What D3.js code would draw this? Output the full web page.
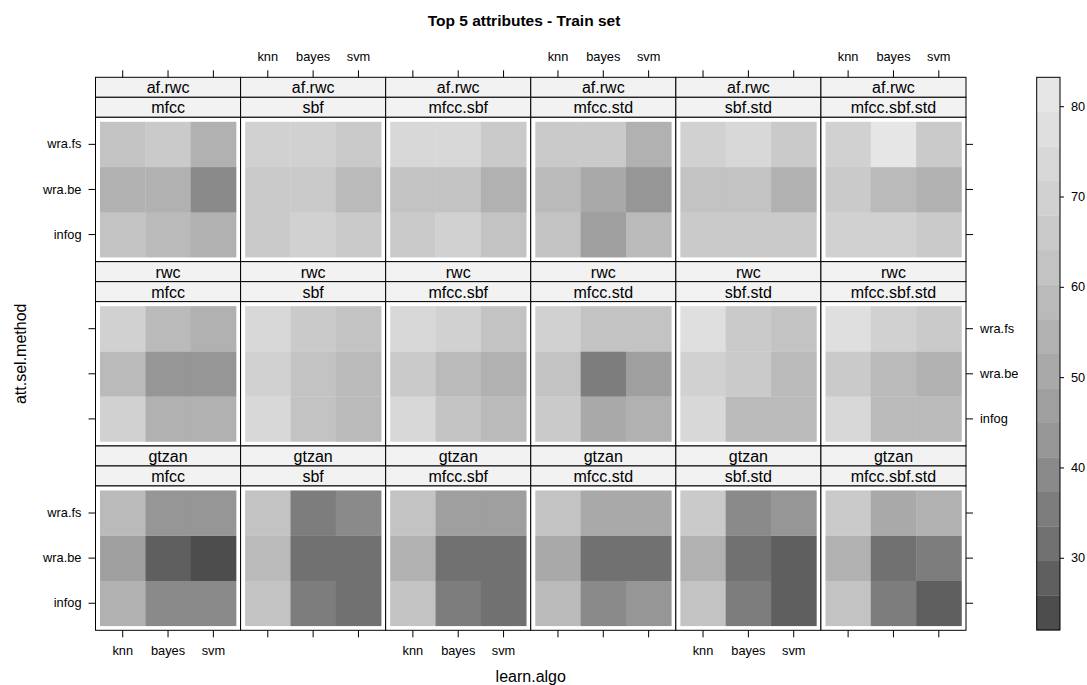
<!DOCTYPE html>
<html>
<head>
<meta charset="utf-8">
<script src="https://cdn.jsdelivr.net/npm/d3@7"></script>
<style>
  html, body { margin: 0; padding: 0; background: #ffffff; }
  svg { display: block; font-family: "Liberation Sans", Arial, Helvetica, sans-serif; }
</style>
</head>
<body>
<svg id="chart" width="1087" height="685"></svg>
<script>
// Conditioning factors and axis categories
const datasets = ["af.rwc", "rwc", "gtzan"];
const featureSets = ["mfcc", "sbf", "mfcc.sbf", "mfcc.std", "sbf.std", "mfcc.sbf.std"];
const learnAlgos = ["knn", "bayes", "svm"];
const attSelMethods = ["infog", "wra.be", "wra.fs"];
const legendTicks = [30, 40, 50, 60, 70, 80];

// Accuracy (%) per feature set: rows follow attSelMethods, columns follow learnAlgos
const accAfRwc = [
  [[62.0, 58.6, 54.9], [54.2, 54.6, 39.4], [61.4, 65.7, 55.1]],
  [[66.5, 69.4, 65.2], [65.0, 64.8, 58.9], [68.8, 69.1, 65.5]],
  [[66.2, 70.4, 62.6], [61.7, 61.9, 55.6], [72.4, 72.8, 66.8]],
  [[62.9, 46.2, 58.1], [58.8, 50.3, 43.4], [65.3, 65.9, 55.4]],
  [[66.4, 66.9, 65.8], [63.0, 62.5, 56.0], [68.9, 73.1, 66.3]],
  [[68.4, 68.6, 66.1], [65.1, 58.2, 55.8], [69.3, 83.2, 66.7]]
];
const accRwc = [
  [[70.1, 55.0, 54.8], [57.4, 43.1, 42.7], [69.0, 58.0, 55.3]],
  [[73.3, 62.4, 58.5], [69.5, 61.6, 59.0], [72.9, 65.4, 62.0]],
  [[74.1, 61.3, 57.9], [66.6, 57.7, 54.3], [72.6, 68.1, 62.7]],
  [[65.6, 50.9, 54.0], [61.1, 35.2, 46.5], [68.7, 62.1, 61.9]],
  [[73.0, 58.7, 57.6], [69.2, 65.3, 58.4], [76.0, 64.5, 62.4]],
  [[72.2, 57.2, 58.0], [66.3, 58.5, 54.7], [75.9, 69.6, 64.9]]
];
const accGtzan = [
  [[54.4, 39.6, 39.0], [46.8, 27.5, 22.0], [57.9, 43.6, 42.9]],
  [[62.5, 35.6, 31.9], [58.0, 31.4, 31.2], [61.6, 35.1, 38.8]],
  [[61.2, 35.9, 31.7], [54.9, 31.0, 31.5], [61.8, 46.4, 46.7]],
  [[58.6, 39.8, 43.5], [50.2, 31.3, 31.6], [61.0, 49.6, 49.9]],
  [[62.7, 35.8, 28.1], [56.2, 31.8, 27.9], [65.0, 39.9, 43.2]],
  [[62.3, 35.5, 28.4], [54.1, 31.9, 35.3], [66.2, 50.1, 54.6]]
];
const accByDataset = [accAfRwc, accRwc, accGtzan];

// Flatten into one record per cell
const records = [];
datasets.forEach((ds, r) => {
  featureSets.forEach((fs, c) => {
    attSelMethods.forEach((m, i) => {
      learnAlgos.forEach((a, j) => {
        records.push({ dataset: ds, features: fs, method: m, algo: a, value: accByDataset[r][c][i][j], row: r, col: c });
      });
    });
  });
});

const svg = d3.select("#chart");
const font = "\"Liberation Sans\", Arial, Helvetica, sans-serif";

// Layout
const gridLeft = 95.5, gridRight = 966, gridTop = 77.3, gridBottom = 630.3;
const nCols = featureSets.length, nRows = datasets.length;
const colW = (gridRight - gridLeft) / nCols;
const rowH = (gridBottom - gridTop) / nRows;
const stripH = 20;
const panelH = rowH - 2 * stripH;
const tickLen = 7;

// Colour scale: 16 equal intervals between data extremes, grey ramp
const [lo, hi] = d3.extent(records, d => d.value);
const nBands = 16;
const breaks = d3.range(nBands + 1).map(i => lo + (hi - lo) * i / nBands);
const nPal = 100;
const g0 = Math.pow(0.3, 2.2), g1 = Math.pow(0.9, 2.2);
const bandColors = d3.range(nBands).map(i => {
  const idx = Math.floor(1 + i * (nPal - 1) / (nBands - 1)) - 1;
  const t = idx / (nPal - 1);
  const g = Math.round(255 * Math.pow(g0 + t * (g1 - g0), 1 / 2.2));
  return d3.rgb(g, g, g).formatHex();
});
const color = d3.scaleThreshold().domain(breaks.slice(1, -1)).range(bandColors);

// In-panel scales
const x = d3.scaleBand().domain(learnAlgos).range([0, colW]).paddingInner(0).paddingOuter(0.1);
const y = d3.scaleBand().domain(attSelMethods).range([panelH, 0]).paddingInner(0).paddingOuter(0.1);

// Title
svg.append("text")
  .attr("x", 524).attr("y", 20)
  .attr("text-anchor", "middle").attr("dominant-baseline", "central")
  .style("font-size", "15.5px").style("font-weight", "bold")
  .text("Top 5 attributes - Train set");

// Panels
datasets.forEach((ds, r) => {
  featureSets.forEach((fs, c) => {
    const px = gridLeft + c * colW;
    const rowTop = gridTop + r * rowH;
    const g = svg.append("g").attr("transform", `translate(${px},${rowTop})`);

    // Strips: dataset on top, feature set below
    [ds, fs].forEach((lab, k) => {
      g.append("rect")
        .attr("x", 0).attr("y", k * stripH)
        .attr("width", colW).attr("height", stripH)
        .attr("fill", "#f2f2f2").attr("stroke", "#000").attr("stroke-width", 1);
      g.append("text")
        .attr("x", colW / 2).attr("y", k * stripH + stripH / 2 + 0.5)
        .attr("text-anchor", "middle").attr("dominant-baseline", "central")
        .style("font-size", "16px").text(lab);
    });

    const p = g.append("g").attr("transform", `translate(0,${2 * stripH})`);
    p.append("rect").attr("width", colW).attr("height", panelH).attr("fill", "#fff");
    p.selectAll("rect.cell")
      .data(records.filter(d => d.row === r && d.col === c))
      .join("rect")
      .attr("class", "cell")
      .attr("x", d => x(d.algo))
      .attr("y", d => y(d.method))
      .attr("width", x.bandwidth() + 0.3)
      .attr("height", y.bandwidth() + 0.3)
      .attr("fill", d => color(d.value));
    p.append("rect").attr("width", colW).attr("height", panelH)
      .attr("fill", "none").attr("stroke", "#000").attr("stroke-width", 1);

    // Left / right y ticks on outer columns
    const yAxisFor = (side) => {
      const labels = side === "left" ? (r !== 1) : (r === 1);
      const ax = (side === "left" ? d3.axisLeft(y) : d3.axisRight(y))
        .tickSize(tickLen).tickSizeOuter(0).tickPadding(7)
        .tickFormat(labels ? (d => d) : () => "");
      const ag = p.append("g")
        .attr("transform", side === "left" ? "translate(0,0)" : `translate(${colW},0)`)
        .call(ax);
      ag.select(".domain").remove();
      ag.selectAll("text").style("font-size", "12.8px").style("font-family", font).attr("fill", "#000");
    };
    if (c === 0) yAxisFor("left");
    if (c === nCols - 1) yAxisFor("right");

    // Top ticks on first row, bottom ticks on last row
    if (r === 0) {
      const ax = d3.axisTop(x).tickSize(tickLen).tickSizeOuter(0).tickPadding(9)
        .tickFormat(c % 2 === 1 ? (d => d) : () => "");
      const ag = g.append("g").call(ax);
      ag.select(".domain").remove();
      ag.selectAll("text").style("font-size", "12.8px").style("font-family", font).attr("fill", "#000");
    }
    if (r === nRows - 1) {
      const ax = d3.axisBottom(x).tickSize(tickLen).tickSizeOuter(0).tickPadding(9)
        .tickFormat(c % 2 === 0 ? (d => d) : () => "");
      const ag = p.append("g").attr("transform", `translate(0,${panelH})`).call(ax);
      ag.select(".domain").remove();
      ag.selectAll("text").style("font-size", "12.8px").style("font-family", font).attr("fill", "#000");
    }
  });
});

// Axis titles
svg.append("text")
  .attr("x", (gridLeft + gridRight) / 2).attr("y", 676)
  .attr("text-anchor", "middle").attr("dominant-baseline", "central")
  .style("font-size", "16px").text("learn.algo");
svg.append("text")
  .attr("transform", `translate(20,${(gridTop + gridBottom) / 2}) rotate(-90)`)
  .attr("text-anchor", "middle").attr("dominant-baseline", "central")
  .style("font-size", "16px").text("att.sel.method");

// Colour key
const keyX = 1036.7, keyW = 23.3, keyTop = 77.3, keyBottom = 630;
const keyScale = d3.scaleLinear().domain([lo, hi]).range([keyBottom, keyTop]);
const key = svg.append("g");
key.selectAll("rect.band")
  .data(d3.range(nBands))
  .join("rect")
  .attr("class", "band")
  .attr("x", keyX).attr("width", keyW)
  .attr("y", i => keyScale(breaks[i + 1]))
  .attr("height", i => keyScale(breaks[i]) - keyScale(breaks[i + 1]) + 0.3)
  .attr("fill", i => bandColors[i]);
key.append("rect")
  .attr("x", keyX).attr("y", keyTop).attr("width", keyW).attr("height", keyBottom - keyTop)
  .attr("fill", "none").attr("stroke", "#000").attr("stroke-width", 1);
const keyAxis = key.append("g")
  .attr("transform", `translate(${keyX + keyW},0)`)
  .call(d3.axisRight(keyScale).tickValues(legendTicks).tickSize(4).tickSizeOuter(0).tickPadding(7));
keyAxis.select(".domain").remove();
keyAxis.selectAll("text").style("font-size", "12.8px").style("font-family", font).attr("fill", "#000");
</script>
</body>
</html>
